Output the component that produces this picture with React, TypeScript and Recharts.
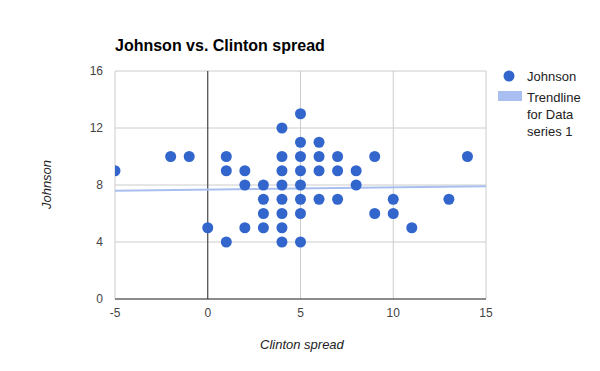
import React from "react";
import { ScatterChart, Scatter, XAxis, YAxis, CartesianGrid, ReferenceLine } from "recharts";

const clintonSpread = [-5, -2, -1, 0, 1, 1, 1, 2, 2, 2, 3, 3, 3, 3, 4, 4, 4, 4, 4, 4, 4, 4, 5, 5, 5, 5, 5, 5, 5, 5, 6, 6, 6, 6, 7, 7, 7, 8, 8, 9, 9, 10, 10, 11, 13, 14];
const johnson = [9, 10, 10, 5, 10, 9, 4, 9, 8, 5, 8, 7, 6, 5, 12, 10, 9, 8, 7, 6, 5, 4, 13, 11, 10, 9, 8, 7, 6, 4, 11, 10, 9, 7, 10, 9, 7, 9, 8, 10, 6, 7, 6, 5, 7, 10];
const trendX = [-5, 15];
const trendY = [7.6, 7.92];
const xTicks = [-5, 0, 5, 10, 15];
const yTicks = [0, 4, 8, 12, 16];

const points = clintonSpread.map((x, i) => ({ x, y: johnson[i] }));
const trend = trendX.map((x, i) => ({ x, y: trendY[i] }));

const font = "Arial, 'Liberation Sans', sans-serif";

export default function App() {
  return (
    <div style={{ position: "absolute", left: 0, top: 0, width: 600, height: 371, fontFamily: font, background: "#fff" }}>
      <ScatterChart width={600} height={371} margin={{ top: 71, right: 114, bottom: 42, left: 85 }}>
        <CartesianGrid stroke="#cccccc" horizontalValues={yTicks} verticalValues={xTicks} />
        <XAxis
          type="number"
          dataKey="x"
          domain={[-5, 15]}
          ticks={xTicks}
          axisLine={false}
          tickLine={false}
          tickMargin={3}
          height={30}
          tick={{ fontSize: 12, fill: "#444", fontFamily: font }}
          allowDataOverflow
        />
        <YAxis
          type="number"
          dataKey="y"
          domain={[0, 16]}
          ticks={yTicks}
          axisLine={false}
          tickLine={false}
          tickMargin={6}
          width={30}
          tick={{ fontSize: 12, fill: "#444", fontFamily: font }}
          allowDataOverflow
        />
        <ReferenceLine x={0} stroke="#333" strokeWidth={1} />
        <ReferenceLine y={0} stroke="#333" strokeWidth={1} />
        <Scatter
          data={trend}
          line={{ stroke: "#a9bfef", strokeWidth: 2 }}
          shape={() => null}
          isAnimationActive={false}
        />
        <Scatter
          data={points}
          fill="#3366cc"
          isAnimationActive={false}
          shape={(p: any) => <circle cx={p.cx} cy={p.cy} r={5.5} fill="#3366cc" />}
        />
      </ScatterChart>
      <div style={{ position: "absolute", left: 115, top: 37, fontSize: 16, fontWeight: "bold", color: "#000", whiteSpace: "nowrap" }}>
        Johnson vs. Clinton spread
      </div>
      <div style={{ position: "absolute", left: 260, top: 337, width: 80, textAlign: "center", fontSize: 13, fontStyle: "italic", color: "#222", whiteSpace: "nowrap" }}>
        Clinton spread
      </div>
      <div style={{ position: "absolute", left: 46, top: 185, width: 0, height: 0 }}>
        <div style={{ position: "absolute", left: -40, top: -8, width: 80, textAlign: "center", fontSize: 13, fontStyle: "italic", color: "#222", transform: "rotate(-90deg)", whiteSpace: "nowrap" }}>
          Johnson
        </div>
      </div>
      <svg style={{ position: "absolute", left: 0, top: 0 }} width={600} height={371} pointerEvents="none">
        <circle cx={509} cy={76} r={5.5} fill="#3366cc" />
        <text x={527} y={81} fontSize={13} fill="#222" fontFamily={font}>Johnson</text>
        <rect x={498} y={91} width={24} height={10} fill="#a9bfef" />
        <text x={527} y={102} fontSize={13} fill="#222" fontFamily={font}>Trendline</text>
        <text x={527} y={119} fontSize={13} fill="#222" fontFamily={font}>for Data</text>
        <text x={527} y={136} fontSize={13} fill="#222" fontFamily={font}>series 1</text>
      </svg>
    </div>
  );
}
